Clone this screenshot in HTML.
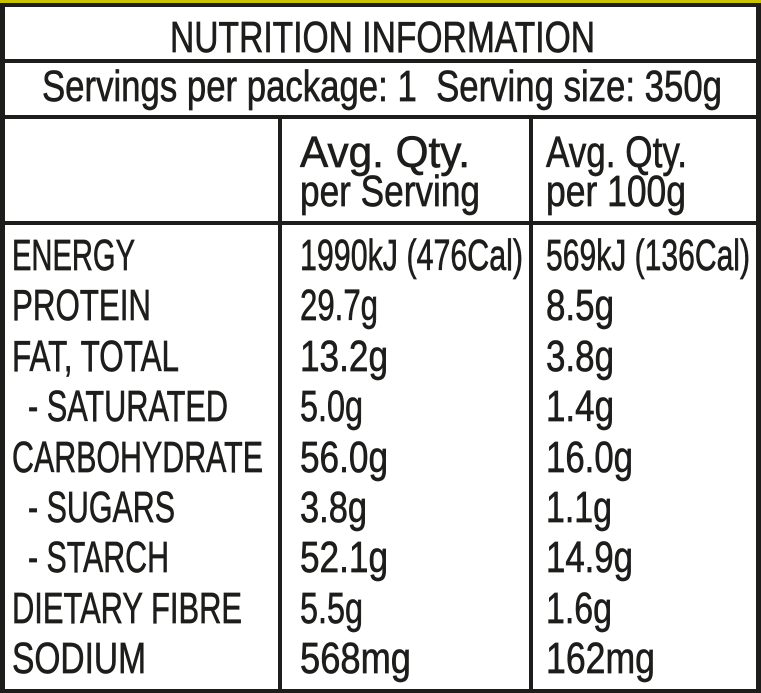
<!DOCTYPE html>
<html><head><meta charset="utf-8"><style>
html,body{margin:0;padding:0;background:#fff;}
svg{display:block}
text{font-family:"Liberation Sans Narrow","Liberation Sans",sans-serif;font-size:44px;fill:#1d1d1b;stroke:#1d1d1b;stroke-width:0.7px}
</style></head><body>
<svg width="761" height="693" viewBox="0 0 761 693" xmlns="http://www.w3.org/2000/svg">
<rect x="0" y="0" width="761" height="693" fill="#fff"/>
<rect x="0" y="0" width="761" height="3" fill="#c8c400"/>
<g fill="#1d1d1b">
<rect x="0" y="3" width="761" height="4"/>
<rect x="0" y="3" width="5" height="690"/>
<rect x="756" y="3" width="5" height="690"/>
<rect x="0" y="689" width="761" height="4"/>
<rect x="0" y="59" width="761" height="4"/>
<rect x="0" y="115" width="761" height="4"/>
<rect x="0" y="221" width="761" height="4"/>
<rect x="278" y="115" width="4" height="578"/>
<rect x="529" y="115" width="4" height="578"/>
</g>
<g>
<text x="170" y="52" textLength="425" lengthAdjust="spacingAndGlyphs">NUTRITION INFORMATION</text>
<text x="42" y="101" textLength="680" lengthAdjust="spacingAndGlyphs">Servings per package: 1&#160;&#160;Serving size: 350g</text>
<text x="300" y="167" textLength="170" lengthAdjust="spacingAndGlyphs">Avg. Qty.</text>
<text x="300" y="206" textLength="180" lengthAdjust="spacingAndGlyphs">per Serving</text>
<text x="546" y="167" textLength="141" lengthAdjust="spacingAndGlyphs">Avg. Qty.</text>
<text x="546" y="206" textLength="140" lengthAdjust="spacingAndGlyphs">per 100g</text>

<text x="12" y="270" textLength="123" lengthAdjust="spacingAndGlyphs">ENERGY</text>
<text x="12" y="320" textLength="139" lengthAdjust="spacingAndGlyphs">PROTEIN</text>
<text x="12" y="371" textLength="167" lengthAdjust="spacingAndGlyphs">FAT, TOTAL</text>
<text x="28" y="421" textLength="200" lengthAdjust="spacingAndGlyphs">- SATURATED</text>
<text x="12" y="472" textLength="251" lengthAdjust="spacingAndGlyphs">CARBOHYDRATE</text>
<text x="28" y="522" textLength="147" lengthAdjust="spacingAndGlyphs">- SUGARS</text>
<text x="28" y="572" textLength="141" lengthAdjust="spacingAndGlyphs">- STARCH</text>
<text x="12" y="623" textLength="230" lengthAdjust="spacingAndGlyphs">DIETARY FIBRE</text>
<text x="12" y="673" textLength="134" lengthAdjust="spacingAndGlyphs">SODIUM</text>

<text x="300" y="270" textLength="223" lengthAdjust="spacingAndGlyphs">1990kJ (476Cal)</text>
<text x="300" y="320" textLength="78" lengthAdjust="spacingAndGlyphs">29.7g</text>
<text x="300" y="371" textLength="88" lengthAdjust="spacingAndGlyphs">13.2g</text>
<text x="300" y="421" textLength="63" lengthAdjust="spacingAndGlyphs">5.0g</text>
<text x="300" y="472" textLength="88" lengthAdjust="spacingAndGlyphs">56.0g</text>
<text x="300" y="522" textLength="67" lengthAdjust="spacingAndGlyphs">3.8g</text>
<text x="300" y="572" textLength="88" lengthAdjust="spacingAndGlyphs">52.1g</text>
<text x="300" y="623" textLength="63" lengthAdjust="spacingAndGlyphs">5.5g</text>
<text x="300" y="673" textLength="111" lengthAdjust="spacingAndGlyphs">568mg</text>

<text x="546" y="270" textLength="204" lengthAdjust="spacingAndGlyphs">569kJ (136Cal)</text>
<text x="546" y="320" textLength="68" lengthAdjust="spacingAndGlyphs">8.5g</text>
<text x="546" y="371" textLength="68" lengthAdjust="spacingAndGlyphs">3.8g</text>
<text x="546" y="421" textLength="68" lengthAdjust="spacingAndGlyphs">1.4g</text>
<text x="546" y="472" textLength="87" lengthAdjust="spacingAndGlyphs">16.0g</text>
<text x="546" y="522" textLength="66" lengthAdjust="spacingAndGlyphs">1.1g</text>
<text x="546" y="572" textLength="87" lengthAdjust="spacingAndGlyphs">14.9g</text>
<text x="546" y="623" textLength="66" lengthAdjust="spacingAndGlyphs">1.6g</text>
<text x="546" y="673" textLength="109" lengthAdjust="spacingAndGlyphs">162mg</text>
</g>
</svg>
</body></html>
